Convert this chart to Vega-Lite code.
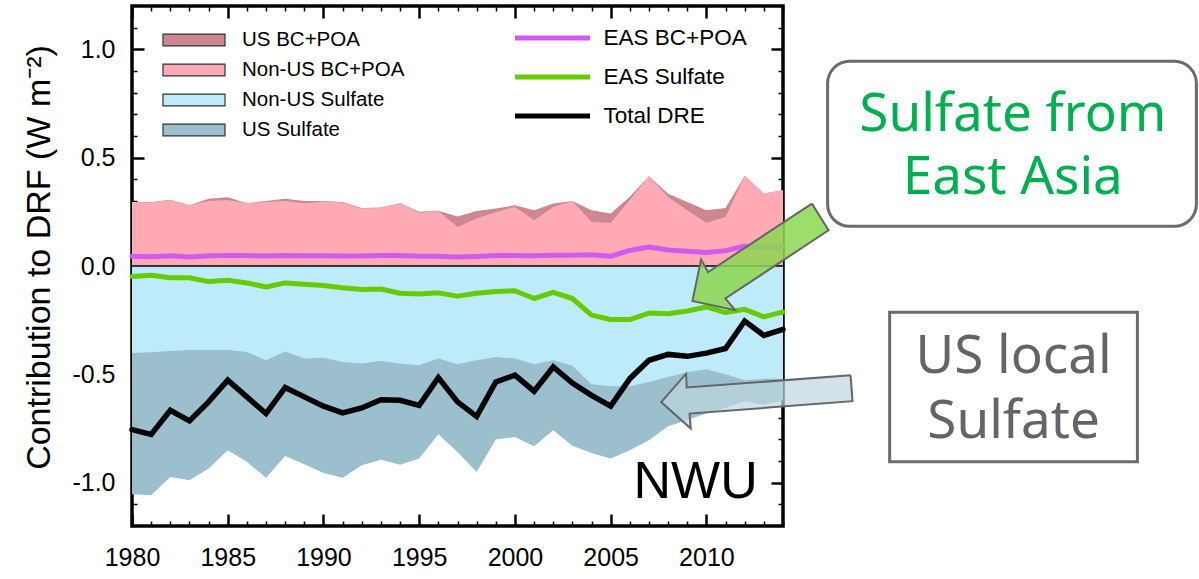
{
  "$schema": "https://vega.github.io/schema/vega-lite/v6.json",
  "width": 651,
  "height": 520,
  "autosize": "none",
  "padding": {"left": 132, "top": 6, "right": 416, "bottom": 53},
  "background": "white",
  "config": {
    "view": {"stroke": "black", "strokeWidth": 3.5},
    "font": "Liberation Sans",
    "axis": {"grid": false, "domain": false, "tickColor": "black", "labelColor": "black", "labelFont": "Liberation Sans", "labelFlush": false, "zindex": 1}
  },
  "datasets": {
    "d": [
      {"year": 1980, "usbc": 0.295, "nusbc": 0.295, "nusso4": -0.401, "usso4": -1.054, "easbc": 0.045, "easso4": -0.048, "total": -0.755},
      {"year": 1981, "usbc": 0.295, "nusbc": 0.293, "nusso4": -0.398, "usso4": -1.058, "easbc": 0.043, "easso4": -0.043, "total": -0.777},
      {"year": 1982, "usbc": 0.306, "nusbc": 0.305, "nusso4": -0.392, "usso4": -0.974, "easbc": 0.047, "easso4": -0.054, "total": -0.666},
      {"year": 1983, "usbc": 0.280, "nusbc": 0.280, "nusso4": -0.388, "usso4": -0.989, "easbc": 0.042, "easso4": -0.054, "total": -0.715},
      {"year": 1984, "usbc": 0.310, "nusbc": 0.300, "nusso4": -0.388, "usso4": -0.935, "easbc": 0.047, "easso4": -0.072, "total": -0.627},
      {"year": 1985, "usbc": 0.317, "nusbc": 0.305, "nusso4": -0.388, "usso4": -0.850, "easbc": 0.049, "easso4": -0.066, "total": -0.527},
      {"year": 1986, "usbc": 0.290, "nusbc": 0.290, "nusso4": -0.397, "usso4": -0.904, "easbc": 0.048, "easso4": -0.078, "total": -0.604},
      {"year": 1987, "usbc": 0.300, "nusbc": 0.295, "nusso4": -0.435, "usso4": -0.977, "easbc": 0.046, "easso4": -0.097, "total": -0.681},
      {"year": 1988, "usbc": 0.310, "nusbc": 0.300, "nusso4": -0.395, "usso4": -0.877, "easbc": 0.048, "easso4": -0.078, "total": -0.561},
      {"year": 1989, "usbc": 0.300, "nusbc": 0.290, "nusso4": -0.427, "usso4": -0.915, "easbc": 0.047, "easso4": -0.084, "total": -0.604},
      {"year": 1990, "usbc": 0.300, "nusbc": 0.298, "nusso4": -0.424, "usso4": -0.955, "easbc": 0.047, "easso4": -0.090, "total": -0.647},
      {"year": 1991, "usbc": 0.295, "nusbc": 0.293, "nusso4": -0.443, "usso4": -0.977, "easbc": 0.046, "easso4": -0.100, "total": -0.678},
      {"year": 1992, "usbc": 0.268, "nusbc": 0.265, "nusso4": -0.450, "usso4": -0.920, "easbc": 0.046, "easso4": -0.108, "total": -0.655},
      {"year": 1993, "usbc": 0.270, "nusbc": 0.268, "nusso4": -0.438, "usso4": -0.894, "easbc": 0.048, "easso4": -0.106, "total": -0.617},
      {"year": 1994, "usbc": 0.290, "nusbc": 0.290, "nusso4": -0.450, "usso4": -0.917, "easbc": 0.048, "easso4": -0.126, "total": -0.620},
      {"year": 1995, "usbc": 0.250, "nusbc": 0.246, "nusso4": -0.458, "usso4": -0.889, "easbc": 0.045, "easso4": -0.129, "total": -0.643},
      {"year": 1996, "usbc": 0.255, "nusbc": 0.254, "nusso4": -0.427, "usso4": -0.777, "easbc": 0.045, "easso4": -0.124, "total": -0.515},
      {"year": 1997, "usbc": 0.229, "nusbc": 0.180, "nusso4": -0.454, "usso4": -0.858, "easbc": 0.041, "easso4": -0.139, "total": -0.627},
      {"year": 1998, "usbc": 0.254, "nusbc": 0.219, "nusso4": -0.435, "usso4": -0.951, "easbc": 0.044, "easso4": -0.126, "total": -0.694},
      {"year": 1999, "usbc": 0.265, "nusbc": 0.249, "nusso4": -0.420, "usso4": -0.801, "easbc": 0.048, "easso4": -0.118, "total": -0.535},
      {"year": 2000, "usbc": 0.280, "nusbc": 0.272, "nusso4": -0.427, "usso4": -0.789, "easbc": 0.049, "easso4": -0.114, "total": -0.504},
      {"year": 2001, "usbc": 0.257, "nusbc": 0.211, "nusso4": -0.454, "usso4": -0.832, "easbc": 0.047, "easso4": -0.150, "total": -0.578},
      {"year": 2002, "usbc": 0.288, "nusbc": 0.272, "nusso4": -0.435, "usso4": -0.758, "easbc": 0.050, "easso4": -0.122, "total": -0.466},
      {"year": 2003, "usbc": 0.300, "nusbc": 0.300, "nusso4": -0.460, "usso4": -0.830, "easbc": 0.050, "easso4": -0.150, "total": -0.540},
      {"year": 2004, "usbc": 0.257, "nusbc": 0.203, "nusso4": -0.546, "usso4": -0.863, "easbc": 0.052, "easso4": -0.227, "total": -0.597},
      {"year": 2005, "usbc": 0.242, "nusbc": 0.198, "nusso4": -0.555, "usso4": -0.889, "easbc": 0.045, "easso4": -0.247, "total": -0.647},
      {"year": 2006, "usbc": 0.320, "nusbc": 0.306, "nusso4": -0.555, "usso4": -0.850, "easbc": 0.072, "easso4": -0.247, "total": -0.520},
      {"year": 2007, "usbc": 0.414, "nusbc": 0.414, "nusso4": -0.535, "usso4": -0.804, "easbc": 0.088, "easso4": -0.217, "total": -0.435},
      {"year": 2008, "usbc": 0.334, "nusbc": 0.318, "nusso4": -0.512, "usso4": -0.740, "easbc": 0.074, "easso4": -0.220, "total": -0.408},
      {"year": 2009, "usbc": 0.295, "nusbc": 0.257, "nusso4": -0.490, "usso4": -0.712, "easbc": 0.068, "easso4": -0.208, "total": -0.417},
      {"year": 2010, "usbc": 0.257, "nusbc": 0.200, "nusso4": -0.476, "usso4": -0.680, "easbc": 0.062, "easso4": -0.189, "total": -0.402},
      {"year": 2011, "usbc": 0.268, "nusbc": 0.226, "nusso4": -0.500, "usso4": -0.655, "easbc": 0.071, "easso4": -0.215, "total": -0.381},
      {"year": 2012, "usbc": 0.417, "nusbc": 0.417, "nusso4": -0.527, "usso4": -0.625, "easbc": 0.091, "easso4": -0.200, "total": -0.254},
      {"year": 2013, "usbc": 0.335, "nusbc": 0.335, "nusso4": -0.520, "usso4": -0.640, "easbc": 0.088, "easso4": -0.235, "total": -0.320},
      {"year": 2014, "usbc": 0.350, "nusbc": 0.350, "nusso4": -0.522, "usso4": -0.620, "easbc": 0.088, "easso4": -0.212, "total": -0.292}
    ],
    "garrow": [
      {"i": 0, "year": 2015.51, "value": 0.288},
      {"i": 1, "year": 2016.38, "value": 0.165},
      {"i": 2, "year": 2010.99, "value": -0.150},
      {"i": 3, "year": 2011.50, "value": -0.204},
      {"i": 4, "year": 2009.27, "value": -0.162},
      {"i": 5, "year": 2009.72, "value": 0.030},
      {"i": 6, "year": 2010.09, "value": -0.028},
      {"i": 7, "year": 2015.51, "value": 0.288}
    ],
    "barrow": [
      {"i": 0, "year": 2017.53, "value": -0.504},
      {"i": 1, "year": 2017.63, "value": -0.624},
      {"i": 2, "year": 2009.12, "value": -0.681},
      {"i": 3, "year": 2009.18, "value": -0.750},
      {"i": 4, "year": 2007.64, "value": -0.628},
      {"i": 5, "year": 2008.94, "value": -0.497},
      {"i": 6, "year": 2008.97, "value": -0.561},
      {"i": 7, "year": 2017.53, "value": -0.504}
    ],
    "boxes": [
      {"box": "asia", "x1": 2016.33, "x2": 2035.59, "y1": 0.945, "y2": 0.183},
      {"box": "us", "x1": 2019.57, "x2": 2032.51, "y1": -0.214, "y2": -0.904}
    ],
    "notes": [
      {"box": "asia", "t": "Sulfate from", "year": 2026.0, "value": 0.622},
      {"box": "asia", "t": "East Asia", "year": 2026.0, "value": 0.331},
      {"box": "us", "t": "US local", "year": 2026.04, "value": -0.495},
      {"box": "us", "t": "Sulfate", "year": 2026.04, "value": -0.793}
    ],
    "panel": [
      {"label": "NWU", "year": 2012.68, "value": -1.073, "zero": 0}
    ]
  },
  "layer": [
    {
      "data": {"name": "d"},
      "mark": {"type": "area", "opacity": 1},
      "encoding": {
        "x": {"field": "year", "type": "quantitative", "scale": {"domain": [1980, 2014], "nice": false, "zero": false},
              "axis": {"orient": "bottom", "values": [1980, 1985, 1990, 1995, 2000, 2005, 2010], "format": "d", "tickSize": -12, "tickWidth": 2.5, "labelPadding": 31, "labelFontSize": 25, "title": null}},
        "y": {"field": "usso4", "type": "quantitative", "stack": null, "scale": {"domain": [-1.2, 1.2], "nice": false, "zero": false},
              "axis": {"orient": "left", "values": [-1, -0.5, 0, 0.5, 1], "labelExpr": "datum.value < 0 ? '-' + format(-datum.value, '.1f') : format(datum.value, '.1f')", "tickSize": -12, "tickWidth": 2.5, "labelPadding": 29, "labelFontSize": 25,
                       "title": "Contribution to DRF (W m⁻²)", "titleFont": "Liberation Sans", "titleFontSize": 34, "titleFontWeight": "normal", "titleColor": "black", "titleAngle": -90, "titleBaseline": "alphabetic", "titleAlign": "center", "titleX": -83, "titleY": 251}},
        "fill": {"datum": "US Sulfate", "type": "nominal",
                 "scale": {"domain": ["US BC+POA", "Non-US BC+POA", "Non-US Sulfate", "US Sulfate"], "range": ["#CD8791", "#FFAAB4", "#BEEBFA", "#9BBFCC"]},
                 "legend": {"orient": "none", "legendX": 30, "legendY": 24, "title": null, "symbolType": "M-1,-0.19H1V0.19H-1Z", "symbolSize": 3844, "symbolStrokeColor": "#333333", "symbolStrokeWidth": 1.2, "symbolOpacity": 1, "labelFont": "Liberation Sans", "labelFontSize": 20.5, "labelLimit": 400, "labelColor": "black", "labelOffset": 16, "clipHeight": 20, "rowPadding": 9, "padding": 0}}
      }
    },
    {
      "data": {"name": "d"},
      "mark": {"type": "area", "opacity": 1},
      "encoding": {
        "x": {"field": "year", "type": "quantitative",
              "axis": {"orient": "bottom", "values": [1981,1982,1983,1984,1986,1987,1988,1989,1991,1992,1993,1994,1996,1997,1998,1999,2001,2002,2003,2004,2006,2007,2008,2009,2011,2012,2013,2014], "labels": false, "tickSize": -5, "tickWidth": 1.5, "title": null}},
        "y": {"field": "nusso4", "type": "quantitative", "stack": null,
              "axis": {"orient": "left", "values": [-1.1,-0.9,-0.8,-0.7,-0.6,-0.4,-0.3,-0.2,-0.1,0.1,0.2,0.3,0.4,0.6,0.7,0.8,0.9,1.1], "labels": false, "tickSize": -5, "tickWidth": 1.5, "title": null}},
        "fill": {"datum": "Non-US Sulfate", "type": "nominal"}
      }
    },
    {
      "data": {"name": "d"},
      "mark": {"type": "area", "opacity": 1},
      "encoding": {
        "x": {"field": "year", "type": "quantitative",
              "axis": {"orient": "top", "values": [1980, 1985, 1990, 1995, 2000, 2005, 2010], "labels": false, "tickSize": -12, "tickWidth": 2.5, "title": null}},
        "y": {"field": "usbc", "type": "quantitative", "stack": null,
              "axis": {"orient": "right", "values": [-1, -0.5, 0, 0.5, 1], "labels": false, "tickSize": -12, "tickWidth": 2.5, "title": null}},
        "fill": {"datum": "US BC+POA", "type": "nominal"}
      }
    },
    {
      "data": {"name": "d"},
      "mark": {"type": "area", "opacity": 1},
      "encoding": {
        "x": {"field": "year", "type": "quantitative",
              "axis": {"orient": "top", "values": [1981,1982,1983,1984,1986,1987,1988,1989,1991,1992,1993,1994,1996,1997,1998,1999,2001,2002,2003,2004,2006,2007,2008,2009,2011,2012,2013,2014], "labels": false, "tickSize": -5, "tickWidth": 1.5, "title": null}},
        "y": {"field": "nusbc", "type": "quantitative", "stack": null,
              "axis": {"orient": "right", "values": [-1.1,-0.9,-0.8,-0.7,-0.6,-0.4,-0.3,-0.2,-0.1,0.1,0.2,0.3,0.4,0.6,0.7,0.8,0.9,1.1], "labels": false, "tickSize": -5, "tickWidth": 1.5, "title": null}},
        "fill": {"datum": "Non-US BC+POA", "type": "nominal"}
      }
    },
    {
      "data": {"name": "panel"},
      "mark": {"type": "rule", "color": "black", "strokeWidth": 1.5},
      "encoding": {"y": {"field": "zero", "type": "quantitative", "axis": null}}
    },
    {
      "data": {"name": "d"},
      "mark": {"type": "line", "strokeWidth": 5, "strokeCap": "round", "strokeJoin": "round"},
      "encoding": {
        "x": {"field": "year", "type": "quantitative", "axis": null},
        "y": {"field": "easbc", "type": "quantitative", "axis": null},
        "stroke": {"datum": "EAS BC+POA", "type": "nominal",
                   "scale": {"domain": ["EAS BC+POA", "EAS Sulfate", "Total DRE"], "range": ["#D25AF0", "#66CC00", "#000000"]},
                   "legend": {"orient": "none", "legendX": 380.5, "legendY": 20, "title": null, "symbolType": "stroke", "symbolSize": 5625, "symbolStrokeWidth": 5, "labelFont": "Liberation Sans", "labelFontSize": 22.5, "labelLimit": 400, "labelColor": "black", "labelOffset": 11, "clipHeight": 24, "rowPadding": 15, "padding": 0}}
      }
    },
    {
      "data": {"name": "d"},
      "mark": {"type": "line", "strokeWidth": 5, "strokeCap": "round", "strokeJoin": "round"},
      "encoding": {
        "x": {"field": "year", "type": "quantitative", "axis": null},
        "y": {"field": "easso4", "type": "quantitative", "axis": null},
        "stroke": {"datum": "EAS Sulfate", "type": "nominal"}
      }
    },
    {
      "data": {"name": "d"},
      "mark": {"type": "line", "strokeWidth": 5.5, "strokeCap": "round", "strokeJoin": "miter"},
      "encoding": {
        "x": {"field": "year", "type": "quantitative", "axis": null},
        "y": {"field": "total", "type": "quantitative", "axis": null},
        "stroke": {"datum": "Total DRE", "type": "nominal"}
      }
    },
    {
      "data": {"name": "panel"},
      "mark": {"type": "text", "font": "Liberation Sans", "fontSize": 52, "align": "right", "baseline": "alphabetic", "color": "black"},
      "encoding": {
        "x": {"field": "year", "type": "quantitative", "axis": null},
        "y": {"field": "value", "type": "quantitative", "axis": null},
        "text": {"field": "label"}
      }
    },
    {
      "data": {"name": "garrow"},
      "mark": {"type": "line", "fill": "#8CD750", "fillOpacity": 0.85, "stroke": "#666666", "strokeWidth": 2, "strokeJoin": "miter", "interpolate": "linear"},
      "encoding": {
        "x": {"field": "year", "type": "quantitative", "axis": null},
        "y": {"field": "value", "type": "quantitative", "axis": null},
        "order": {"field": "i", "type": "quantitative"}
      }
    },
    {
      "data": {"name": "barrow"},
      "mark": {"type": "line", "fill": "#BDD7E0", "fillOpacity": 0.7, "stroke": "#666666", "strokeWidth": 2, "strokeJoin": "miter", "interpolate": "linear"},
      "encoding": {
        "x": {"field": "year", "type": "quantitative", "axis": null},
        "y": {"field": "value", "type": "quantitative", "axis": null},
        "order": {"field": "i", "type": "quantitative"}
      }
    },
    {
      "data": {"name": "boxes"},
      "transform": [{"filter": "datum.box == 'asia'"}],
      "mark": {"type": "rect", "fill": "white", "stroke": "#6B6B6B", "strokeWidth": 3, "cornerRadius": 22},
      "encoding": {
        "x": {"field": "x1", "type": "quantitative", "axis": null},
        "x2": {"field": "x2"},
        "y": {"field": "y1", "type": "quantitative", "axis": null},
        "y2": {"field": "y2"}
      }
    },
    {
      "data": {"name": "boxes"},
      "transform": [{"filter": "datum.box == 'us'"}],
      "mark": {"type": "rect", "fill": "white", "stroke": "#6B6B70", "strokeWidth": 3},
      "encoding": {
        "x": {"field": "x1", "type": "quantitative", "axis": null},
        "x2": {"field": "x2"},
        "y": {"field": "y1", "type": "quantitative", "axis": null},
        "y2": {"field": "y2"}
      }
    },
    {
      "data": {"name": "notes"},
      "transform": [{"filter": "datum.box == 'asia'"}],
      "mark": {"type": "text", "font": "Noto Sans", "fontSize": 53, "align": "center", "baseline": "alphabetic", "color": "#00B050"},
      "encoding": {
        "x": {"field": "year", "type": "quantitative", "axis": null},
        "y": {"field": "value", "type": "quantitative", "axis": null},
        "text": {"field": "t"}
      }
    },
    {
      "data": {"name": "notes"},
      "transform": [{"filter": "datum.box == 'us'"}],
      "mark": {"type": "text", "font": "Noto Sans", "fontSize": 53, "align": "center", "baseline": "alphabetic", "color": "#636369"},
      "encoding": {
        "x": {"field": "year", "type": "quantitative", "axis": null},
        "y": {"field": "value", "type": "quantitative", "axis": null},
        "text": {"field": "t"}
      }
    }
  ],
  "resolve": {"axis": {"x": "independent", "y": "independent"}}
}
